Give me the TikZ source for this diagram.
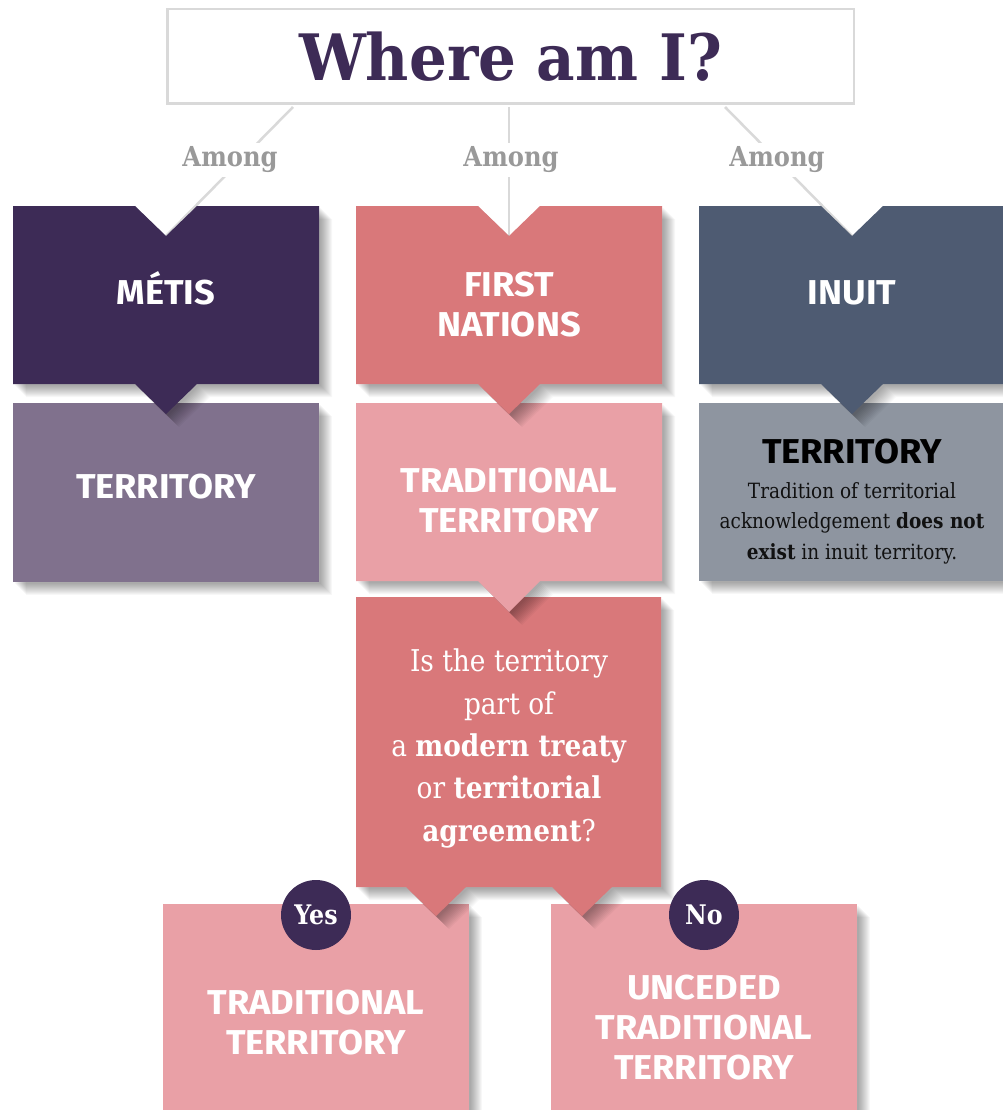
\documentclass[tikz,border=0pt]{standalone}
\usepackage{fontspec}
\setmainfont{DejaVu Serif}[FakeStretch=0.88]
\newfontfamily\titlefont{DejaVu Serif}[FakeStretch=0.93]
\newfontfamily\hsans{Fira Sans}[FakeStretch=1.05]
\definecolor{metisdark}{HTML}{3D2B56}
\definecolor{metislight}{HTML}{80718D}
\definecolor{fndark}{HTML}{D9787A}
\definecolor{fnlight}{HTML}{E9A0A6}
\definecolor{inuitdark}{HTML}{4E5B72}
\definecolor{inuitlight}{HTML}{8E95A0}
\definecolor{linegray}{HTML}{D9D9D9}
\definecolor{amonggray}{HTML}{999999}
\definecolor{bodyblack}{HTML}{111111}
% shapes (pixel coordinates, y downwards)
\newcommand\pMetis{(13,206)--(135,206)--(166,236)--(197,206)--(319,206)--(319,384)--(197,384)--(166,414)--(135,384)--(13,384)--cycle}
\newcommand\pMetisT{(13,403) rectangle (319,582)}
\newcommand\pFN{(356,206)--(478,206)--(509,236)--(540,206)--(662,206)--(662,384)--(540,384)--(509,414)--(478,384)--(356,384)--cycle}
\newcommand\pFNT{(356,403)--(662,403)--(662,581)--(540,581)--(509,612)--(478,581)--(356,581)--cycle}
\newcommand\pQ{(356,597)--(661,597)--(661,887)--(612,887)--(582,916)--(552,887)--(466,887)--(436,916)--(406,887)--(356,887)--cycle}
\newcommand\pYes{(163,904) rectangle (469,1125)}
\newcommand\pNo{(551,904) rectangle (857,1125)}
\newcommand\pInuit{(699,206)--(821,206)--(852,236)--(883,206)--(1015,206)--(1015,384)--(883,384)--(852,414)--(821,384)--(699,384)--cycle}
\newcommand\pInuitT{(699,403) rectangle (1015,581)}
\newcommand\shadowfill[2]{%
  \foreach \s in {2,...,13}{\fill[black,opacity=0.033,shift={(\s,\s)}] #2;}
  \fill[#1] #2;}
\begin{document}
\begin{tikzpicture}[x=1pt,y=-1pt,
  connector/.style={draw=linegray, line width=2.5pt},
  amongtext/.style={fill=white, inner sep=4pt, text=amonggray, anchor=base,
    font=\bfseries\fontsize{27.5}{30}\selectfont},
  headtext/.style={text=white, align=center, inner sep=0pt,
    font=\hsans\bfseries\fontsize{34.5}{40}\selectfont},
  bodytext/.style={text=bodyblack, align=center, inner sep=0pt,
    font=\fontsize{21}{30.5}\selectfont},
  qtext/.style={text=white, align=center, inner sep=0pt,
    font=\fontsize{30}{42.3}\selectfont},
  badge/.style={circle, fill=metisdark, minimum size=70, inner sep=0pt,
    text=white, text depth=0pt, font=\bfseries\fontsize{27}{30}\selectfont},
  titlebox/.style={draw=linegray, line width=2.5pt, fill=white,
    minimum width=686.5, minimum height=94.5, inner sep=0pt,
    text=metisdark, font=\titlefont\bfseries\fontsize{64}{70}\selectfont}]
\useasboundingbox (0,0) rectangle (1003,1110);
\clip (0,0) rectangle (1003,1110);
\fill[white] (0,0) rectangle (1003,1110);

% title
\node[titlebox] (title) at (510.5,56.5) {Where am I?};

% anchor points on the title box and notch tips
\coordinate (t1) at (293,107);
\coordinate (t2) at (509,107);
\coordinate (t3) at (725,107);
\coordinate (mtip) at (166,236);
\coordinate (ftip) at (509,236);
\coordinate (itip) at (852,236);

% connectors
\draw[connector] (t1) -- (mtip);
\draw[connector] (t2) -- (ftip);
\draw[connector] (t3) -- (itip);

% boxes (bottom layers first)
\shadowfill{fnlight}{\pYes}
\shadowfill{fnlight}{\pNo}
\shadowfill{fndark}{\pQ}
\shadowfill{fnlight}{\pFNT}
\shadowfill{fndark}{\pFN}
\shadowfill{metislight}{\pMetisT}
\shadowfill{metisdark}{\pMetis}
\shadowfill{inuitlight}{\pInuitT}
\shadowfill{inuitdark}{\pInuit}

% Among labels
\node[amongtext] (among1) at (230,167) {Among};
\node[amongtext] (among2) at (511,167) {Among};
\node[amongtext] (among3) at (777,167) {Among};

% texts
\node[headtext, anchor=base] (metis) at (166,304) {MÉTIS};
\node[headtext] (fn) at (509,305) {FIRST\\NATIONS};
\node[headtext, anchor=base] (inuit) at (852,304) {INUIT};
\node[headtext, anchor=base] (mterr) at (166,498) {TERRITORY};
\node[headtext] (fnterr) at (509,500.5) {TRADITIONAL\\TERRITORY};
\node[headtext, text=black, anchor=base] (iterr) at (852,463) {TERRITORY};
\node[bodytext] (idesc) at (852,523) {Tradition of territorial\\acknowledgement \textbf{does not}\\\textbf{exist} in inuit territory.};
\node[qtext] (question) at (509,748.5) {Is the territory\\part of\\a \textbf{modern treaty}\\or \textbf{territorial}\\\textbf{agreement}?};
\node[headtext] (yesterr) at (316,1022.5) {TRADITIONAL\\TERRITORY};
\node[headtext] (noterr) at (704,1027.5) {UNCEDED\\TRADITIONAL\\TERRITORY};
\node[badge] (yes) at (316,915) {Yes};
\node[badge] (no) at (704,915) {No};
\end{tikzpicture}
\end{document}
